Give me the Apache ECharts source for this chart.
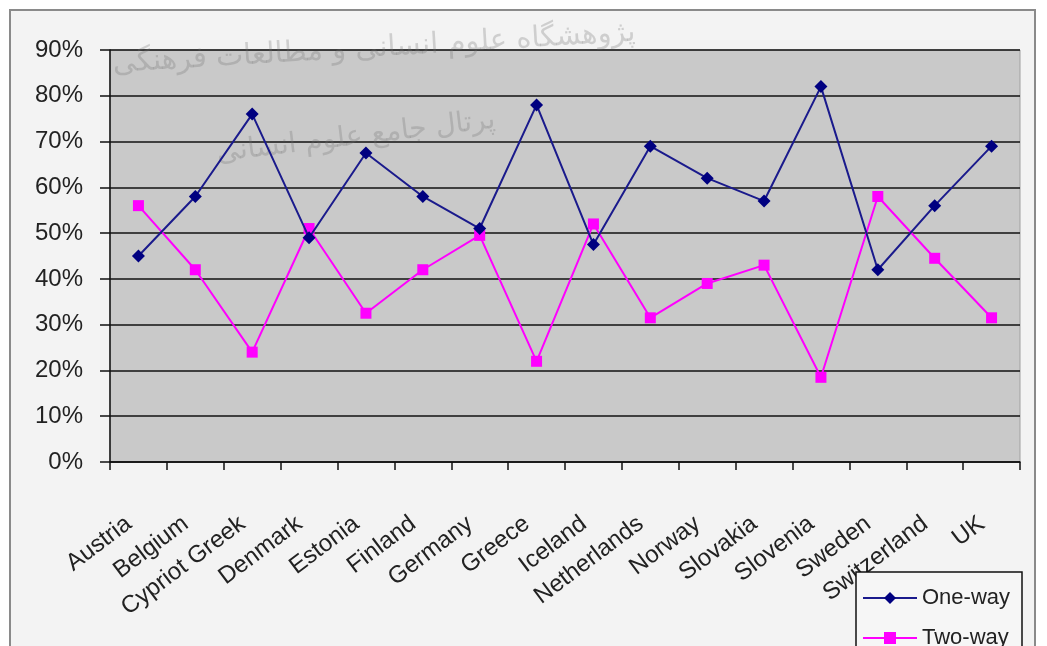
<!DOCTYPE html>
<html>
<head>
<meta charset="utf-8">
<script src="https://cdn.jsdelivr.net/npm/echarts@6/dist/echarts.min.js"></script>
<style>
  html, body { margin: 0; padding: 0; background: #ffffff; }
  #chart { width: 1047px; height: 646px; }
</style>
</head>
<body>
<div id="chart"></div>
<script>
// Share of respondents per country (percent)
const countries = ['Austria', 'Belgium', 'Cypriot Greek', 'Denmark', 'Estonia', 'Finland', 'Germany', 'Greece',
  'Iceland', 'Netherlands', 'Norway', 'Slovakia', 'Slovenia', 'Sweden', 'Switzerland', 'UK'];
const oneWay = [45, 58, 76, 49, 67.5, 58, 51, 78, 47.5, 69, 62, 57, 82, 42, 56, 69];
const twoWay = [56, 42, 24, 51, 32.5, 42, 49.5, 22, 52, 31.5, 39, 43, 18.5, 58, 44.5, 31.5];
const yTicks = { min: 0, max: 90, step: 10 };

const chart = echarts.init(document.getElementById('chart'));

const legendText = { fontFamily: 'Liberation Sans', fontSize: 22, color: '#222' };

chart.setOption({
  backgroundColor: '#ffffff',
  animation: false,
  graphic: [
    // outer chart frame
    { type: 'rect', z: -10, shape: { x: 10, y: 10, width: 1025, height: 660 },
      style: { fill: '#f3f3f3', stroke: '#8a8a8a', lineWidth: 2 } },
    // faint publisher watermark
    { type: 'text', z: 1, x: 112, y: 50, rotation: 0.06,
      style: { text: 'پژوهشگاه علوم انسانی و مطالعات فرهنگی', font: '29px "DejaVu Sans"',
        fill: 'rgba(110,110,110,0.28)' } },
    { type: 'text', z: 1, x: 215, y: 140, rotation: 0.12,
      style: { text: 'پرتال جامع علوم انسانی', font: '28px "DejaVu Sans"',
        fill: 'rgba(110,110,110,0.28)' } },
    // legend box
    { type: 'rect', z: 5, shape: { x: 856, y: 572, width: 166, height: 90 },
      style: { fill: '#f6f6f6', stroke: '#111', lineWidth: 1.5 } }
  ],
  grid: {
    left: 110, right: 27, top: 50, bottom: 184,
    show: true, backgroundColor: '#c9c9c9', borderColor: '#a0a0a0', borderWidth: 1
  },
  legend: [
    { left: 862, top: 587, itemWidth: 54, itemHeight: 15, padding: 0, z: 6,
      textStyle: legendText, data: ['One-way'] },
    { left: 862, top: 627, itemWidth: 54, itemHeight: 15, padding: 0, z: 6,
      textStyle: legendText, data: ['Two-way'] }
  ],
  xAxis: {
    type: 'category',
    data: countries,
    boundaryGap: true,
    axisLine: { lineStyle: { color: '#111', width: 1.5 } },
    axisTick: { show: true, length: 8, lineStyle: { color: '#111', width: 1.5 } },
    axisLabel: {
      interval: 0, rotate: 37, margin: 52, padding: [0, 12, 0, 0],
      fontFamily: 'Liberation Sans', fontSize: 24, color: '#222'
    },
    splitLine: { show: false }
  },
  yAxis: {
    type: 'value',
    min: yTicks.min, max: yTicks.max, interval: yTicks.step,
    axisLine: { show: true, lineStyle: { color: '#111', width: 1.5 } },
    axisTick: { show: true, length: 10, lineStyle: { color: '#111', width: 1.5 } },
    axisLabel: {
      formatter: '{value}%', margin: 27,
      fontFamily: 'Liberation Sans', fontSize: 24, color: '#222'
    },
    splitLine: { show: true, lineStyle: { color: '#111', width: 1.5 } }
  },
  series: [
    {
      name: 'One-way', type: 'line', data: oneWay,
      symbol: 'diamond', symbolSize: 13,
      itemStyle: { color: '#000080' },
      lineStyle: { color: '#1a1a8c', width: 2 },
      z: 3
    },
    {
      name: 'Two-way', type: 'line', data: twoWay,
      symbol: 'rect', symbolSize: 11,
      itemStyle: { color: '#ff00ff' },
      lineStyle: { color: '#ff00ff', width: 2 },
      z: 2
    }
  ]
});
</script>
</body>
</html>
